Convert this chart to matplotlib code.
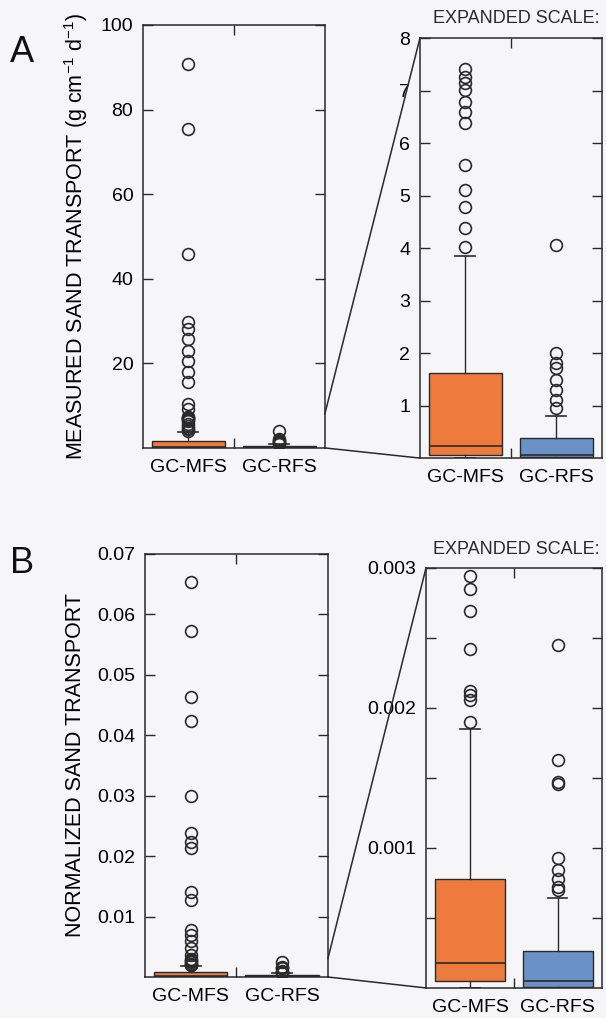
import matplotlib
matplotlib.use("Agg")
import matplotlib.pyplot as plt
from matplotlib.patches import ConnectionPatch

plt.rcParams['font.family'] = ['Liberation Sans', 'DejaVu Sans']
plt.rcParams['mathtext.fontset'] = 'custom'
plt.rcParams['mathtext.rm'] = 'Liberation Sans'
plt.rcParams['mathtext.it'] = 'Liberation Sans'

groups = ["GC-MFS", "GC-RFS"]

# A: measured sand transport (g cm-1 d-1), box summary
a_med = [0.23, 0.05]
a_q1 = [0.06, 0.02]
a_q3 = [1.62, 0.39]
a_whislo = [0.0, 0.0]
a_whishi = [3.84, 0.81]
a_fliers_mfs = [4.03, 4.38, 4.79, 5.11, 5.59, 6.38, 6.59, 6.79, 7.02, 7.14, 7.26, 7.42,
                9.2, 10.3, 15.5, 17.9, 20.6, 23.0, 25.7, 28.1, 29.7, 45.9, 75.5, 90.8]
a_fliers_rfs = [0.95, 1.11, 1.30, 1.49, 1.71, 1.81, 2.0, 4.06]

# B: normalized sand transport
b_med = [0.000179, 0.000048]
b_q1 = [0.000048, 0.00001]
b_q3 = [0.000776, 0.000263]
b_whislo = [0.0, 0.0]
b_whishi = [0.00185, 0.000644]
b_fliers_mfs = [0.0019, 0.00206, 0.00209, 0.00212, 0.00242, 0.00269, 0.00285, 0.00294,
                0.0036, 0.0048, 0.0059, 0.0070, 0.0078, 0.0128, 0.0141, 0.0213, 0.0224,
                0.0238, 0.0299, 0.0423, 0.0463, 0.0573, 0.0654]
b_fliers_rfs = [0.0007, 0.00072, 0.00078, 0.00084, 0.00093, 0.00146, 0.00147, 0.00163, 0.00245]

ORANGE = "#ee7a3e"
BLUE = "#6b91c9"
INK = "#2a2a2a"
BG = "#f6f6f8"
FS = 14


def make_stats(med, q1, q3, lo, hi, fliers):
    stats = []
    for i in range(len(groups)):
        stats.append({'med': med[i], 'q1': q1[i], 'q3': q3[i],
                      'whislo': lo[i], 'whishi': hi[i], 'fliers': fliers[i]})
    return stats


def draw_box(ax, stats, ylim, yticks, ylabels, minor=None):
    bp = ax.bxp(stats, positions=[1, 2], widths=0.8, capwidths=0.22,
                patch_artist=True, showfliers=True,
                boxprops=dict(edgecolor=INK, linewidth=1.0),
                medianprops=dict(color=INK, linewidth=1.2),
                whiskerprops=dict(color=INK, linewidth=1.0),
                capprops=dict(color=INK, linewidth=1.2),
                flierprops=dict(marker='o', markersize=8.5, markerfacecolor='none',
                                markeredgecolor=INK, markeredgewidth=1.2))
    for patch, col in zip(bp['boxes'], [ORANGE, BLUE]):
        patch.set_facecolor(col)
    ax.set_xlim(0.5, 2.5)
    ax.set_ylim(*ylim)
    ax.set_yticks(yticks)
    ax.set_yticklabels(ylabels)
    if minor is not None:
        ax.set_yticks(minor, minor=True)
        ax.tick_params(axis='y', which='minor', direction='in', length=7,
                       width=1.0, color=INK, right=True)
    ax.set_xticks([1, 2])
    ax.set_xticklabels(groups)
    ax.set_xticks([1.5], minor=True)
    ax.tick_params(axis='x', which='major', length=0, labelsize=FS, pad=8)
    ax.tick_params(axis='x', which='minor', direction='in', length=7, width=1.0,
                   color=INK, top=True, bottom=True)
    ax.tick_params(axis='y', which='major', direction='in', length=7, width=1.0,
                   color=INK, right=True, labelsize=FS, pad=7)
    ax.set_facecolor(BG)
    for s in ax.spines.values():
        s.set_color(INK)
        s.set_linewidth(1.1)


fig = plt.figure(figsize=(6.06, 10.18), dpi=100, facecolor=BG)

axA1 = fig.add_axes([0.236, 0.560, 0.300, 0.4155])
axA2 = fig.add_axes([0.693, 0.550, 0.300, 0.4126])
axB1 = fig.add_axes([0.239, 0.0403, 0.302, 0.4155])
axB2 = fig.add_axes([0.703, 0.0295, 0.290, 0.4126])

statsA = make_stats(a_med, a_q1, a_q3, a_whislo, a_whishi, [a_fliers_mfs, a_fliers_rfs])
statsB = make_stats(b_med, b_q1, b_q3, b_whislo, b_whishi, [b_fliers_mfs, b_fliers_rfs])

draw_box(axA1, statsA, (0, 100), [20, 40, 60, 80, 100], ["20", "40", "60", "80", "100"])
draw_box(axA2, statsA, (0, 8), [1, 2, 3, 4, 5, 6, 7, 8],
         ["1", "2", "3", "4", "5", "6", "7", "8"])
draw_box(axB1, statsB, (0, 0.07), [0.01, 0.02, 0.03, 0.04, 0.05, 0.06, 0.07],
         ["0.01", "0.02", "0.03", "0.04", "0.05", "0.06", "0.07"])
draw_box(axB2, statsB, (0, 0.003), [0.001, 0.002, 0.003], ["0.001", "0.002", "0.003"],
         minor=[0.0005, 0.0015, 0.0025])

axA1.set_ylabel(r"MEASURED SAND TRANSPORT (g cm$^{-1}$ d$^{-1}$)", fontsize=15.5, labelpad=8)
axB1.set_ylabel("NORMALIZED SAND TRANSPORT", fontsize=15.5, labelpad=8)

# zoom connector lines
for left, right, top in [(axA1, axA2, 8), (axB1, axB2, 0.003)]:
    for yv in [top, 0]:
        con = ConnectionPatch(xyA=(2.5, yv), coordsA=left.transData,
                              xyB=(0.5, yv), coordsB=right.transData,
                              color=INK, linewidth=1.1)
        fig.add_artist(con)

fig.text(0.016, 0.939, "A", fontsize=26, color="#111111")
fig.text(0.016, 0.437, "B", fontsize=26, color="#111111")
fig.text(0.990, 0.977, "EXPANDED SCALE:", fontsize=13, ha='right', color=INK)
fig.text(0.990, 0.456, "EXPANDED SCALE:", fontsize=13, ha='right', color=INK)

fig.savefig("out.png", dpi=100, facecolor=BG)
